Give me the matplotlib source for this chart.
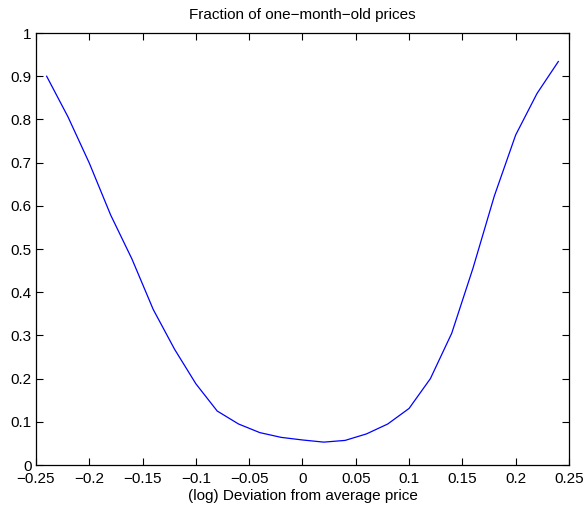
import matplotlib
matplotlib.use("Agg")
import matplotlib.pyplot as plt

# deviation grid and fraction of one-month-old prices
deviation = [-0.24, -0.22, -0.20, -0.18, -0.16, -0.14, -0.12, -0.10, -0.08,
             -0.06, -0.04, -0.02, 0.00, 0.02, 0.04, 0.06, 0.08, 0.10, 0.12,
             0.14, 0.16, 0.18, 0.20, 0.22, 0.24]
fraction = [0.900, 0.806, 0.699, 0.579, 0.477, 0.360, 0.268, 0.188, 0.125,
            0.095, 0.075, 0.064, 0.058, 0.053, 0.057, 0.072, 0.095, 0.131, 0.200,
            0.305, 0.456, 0.623, 0.764, 0.860, 0.934]

xticks = [-0.25, -0.2, -0.15, -0.1, -0.05, 0, 0.05, 0.1, 0.15, 0.2, 0.25]
yticks = [0, 0.1, 0.2, 0.3, 0.4, 0.5, 0.6, 0.7, 0.8, 0.9, 1]

plt.rcParams["font.family"] = ["Liberation Sans", "DejaVu Sans"]

fig = plt.figure(figsize=(5.87, 5.08), dpi=100)
ax = fig.add_axes([0.0613, 0.0846, 0.9080, 0.8504])
ax.plot(deviation, fraction, color="#0000ff", lw=0.9)

ax.set_xlim(-0.25, 0.25)
ax.set_ylim(0, 1)
ax.set_xticks(xticks)
ax.set_xticklabels([f"{t:g}".replace("-", "\u2212") for t in xticks])
ax.set_yticks(yticks)
ax.set_yticklabels([f"{t:g}" for t in yticks])
ax.tick_params(direction="in", top=True, right=True, length=5, width=0.8,
               labelsize=11)
ax.tick_params(axis="x", pad=5)
ax.tick_params(axis="y", pad=3)
for sp in ax.spines.values():
    sp.set_linewidth(0.9)

ax.set_title("Fraction of one\u2212month\u2212old prices", fontsize=11, pad=10)
ax.set_xlabel("(log) Deviation from average price", fontsize=11, labelpad=2)

fig.savefig("out.png", dpi=100)
